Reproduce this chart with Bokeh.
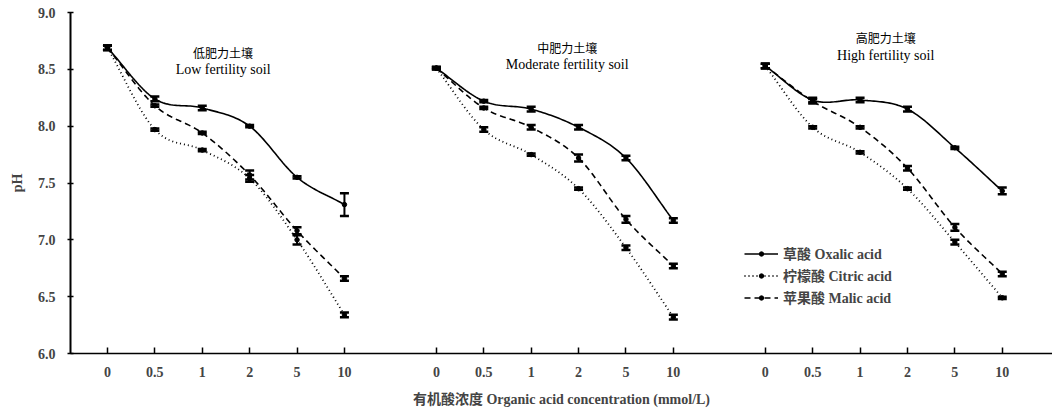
import numpy as np
from bokeh.plotting import figure
from bokeh.models import (ColumnDataSource, Whisker, TeeHead, FixedTicker, Label,
                          Legend, LegendItem)
from bokeh.embed import file_html
from bokeh.resources import INLINE

# ---------------- data ----------------
concentrations = ["0", "0.5", "1", "2", "5", "10"]
soils_cn = ["低肥力土壤", "中肥力土壤", "高肥力土壤"]
soils_en = ["Low fertility soil", "Moderate fertility soil", "High fertility soil"]
acid_labels = ["草酸 Oxalic acid", "柠檬酸 Citric acid", "苹果酸 Malic acid"]

oxalic_low = [8.69, 8.24, 8.16, 8.00, 7.55, 7.31]
citric_low = [8.69, 7.97, 7.79, 7.54, 7.00, 6.34]
malic_low = [8.69, 8.18, 7.94, 7.57, 7.08, 6.66]

oxalic_mod = [8.51, 8.22, 8.15, 7.99, 7.72, 7.17]
citric_mod = [8.51, 7.97, 7.75, 7.45, 6.93, 6.32]
malic_mod = [8.51, 8.16, 7.99, 7.72, 7.18, 6.77]

oxalic_high = [8.53, 8.23, 8.23, 8.15, 7.81, 7.43]
citric_high = [8.53, 7.99, 7.77, 7.45, 6.98, 6.49]
malic_high = [8.53, 8.22, 7.99, 7.63, 7.11, 6.70]

oxalic_low_err = [0.02, 0.02, 0.02, 0.01, 0.01, 0.10]
citric_low_err = [0.02, 0.01, 0.01, 0.03, 0.04, 0.02]
malic_low_err = [0.02, 0.01, 0.01, 0.04, 0.03, 0.02]

oxalic_mod_err = [0.01, 0.01, 0.02, 0.02, 0.02, 0.02]
citric_mod_err = [0.01, 0.02, 0.01, 0.01, 0.02, 0.02]
malic_mod_err = [0.01, 0.01, 0.02, 0.03, 0.03, 0.02]

oxalic_high_err = [0.02, 0.02, 0.02, 0.02, 0.01, 0.03]
citric_high_err = [0.02, 0.01, 0.01, 0.01, 0.02, 0.01]
malic_high_err = [0.02, 0.02, 0.01, 0.02, 0.03, 0.02]

yticks = [6.0, 6.5, 7.0, 7.5, 8.0, 8.5, 9.0]

panels = [
    [oxalic_low, citric_low, malic_low],
    [oxalic_mod, citric_mod, malic_mod],
    [oxalic_high, citric_high, malic_high],
]
panel_errs = [
    [oxalic_low_err, citric_low_err, malic_low_err],
    [oxalic_mod_err, citric_mod_err, malic_mod_err],
    [oxalic_high_err, citric_high_err, malic_high_err],
]

# ---------------- layout ----------------
STEP = 50
PANEL = 347
SERIF = "'Liberation Serif', 'Noto Sans CJK SC', serif"
styles = [dict(line_dash="solid", line_width=1.6),
          dict(line_dash="1 3", line_width=1.8),
          dict(line_dash="6 4", line_width=1.6)]


def smooth(xs, ys, n=24):
    xs = np.asarray(xs, float)
    ys = np.asarray(ys, float)
    px = np.concatenate([[2 * xs[0] - xs[1]], xs, [2 * xs[-1] - xs[-2]]])
    py = np.concatenate([[2 * ys[0] - ys[1]], ys, [2 * ys[-1] - ys[-2]]])
    outx, outy = [], []
    for i in range(1, len(px) - 2):
        t = np.linspace(0, 1, n, endpoint=(i == len(px) - 3))
        for arr, out in ((px, outx), (py, outy)):
            p0, p1, p2, p3 = arr[i - 1], arr[i], arr[i + 1], arr[i + 2]
            out.extend(0.5 * ((2 * p1) + (-p0 + p2) * t +
                              (2 * p0 - 5 * p1 + 4 * p2 - p3) * t ** 2 +
                              (-p0 + 3 * p1 - 3 * p2 + p3) * t ** 3))
    return outx, outy


p = figure(width=1052, height=416, x_range=(-39, 997), y_range=(6, 9),
           output_backend="svg", toolbar_location=None,
           min_border_left=70, min_border_right=0, min_border_top=12,
           min_border_bottom=63)
p.outline_line_color = None
p.xgrid.visible = False
p.ygrid.visible = False
p.background_fill_color = "white"
p.border_fill_color = "white"

tick_pos = []
overrides = {}
legend_renderers = [[], [], []]
for pi, series in enumerate(panels):
    xs = [pi * PANEL + j * STEP for j in range(len(concentrations))]
    for j, c in enumerate(concentrations):
        tick_pos.append(xs[j])
        overrides[xs[j]] = c
    for si, ys in enumerate(series):
        err = panel_errs[pi][si]
        sx, sy = smooth(xs, ys)
        ln = p.line(sx, sy, line_color="black", **styles[si])
        src = ColumnDataSource(dict(x=xs, y=ys,
                                    upper=[a + b for a, b in zip(ys, err)],
                                    lower=[a - b for a, b in zip(ys, err)]))
        sc = p.scatter("x", "y", source=src, size=4.5, color="black")
        w = Whisker(source=src, base="x", upper="upper", lower="lower",
                    dimension="height", line_color="black", line_width=2,
                    upper_head=TeeHead(size=9, line_width=2.5, line_color="black"),
                    lower_head=TeeHead(size=9, line_width=2.5, line_color="black"))
        p.add_layout(w)
        if pi == 0:
            legend_renderers[si] = [ln, sc]

# titles
title_x = [122, PANEL + 138, 2 * PANEL + 127]
title_y_cn = [8.65, 8.69, 8.78]
title_y_en = [8.50, 8.54, 8.62]
for i in range(3):
    p.add_layout(Label(x=title_x[i], y=title_y_cn[i], text=soils_cn[i],
                       text_align="center", text_baseline="middle",
                       text_font="Noto Sans CJK SC", text_font_size="12px",
                       text_color="black"))
    p.add_layout(Label(x=title_x[i], y=title_y_en[i], text=soils_en[i],
                       text_align="center", text_baseline="middle",
                       text_font=SERIF, text_font_size="14px",
                       text_color="black"))

# axes
p.xaxis.ticker = FixedTicker(ticks=tick_pos)
p.xaxis.major_label_overrides = overrides
p.xaxis.major_tick_in = 6
p.xaxis.major_tick_out = 0
p.xaxis.minor_tick_line_color = None
p.xaxis.axis_line_width = 1.6
p.xaxis.major_tick_line_width = 1.5
p.xaxis.major_label_standoff = 13
p.xaxis.major_label_text_font = SERIF
p.xaxis.major_label_text_font_size = "14px"
p.xaxis.major_label_text_font_style = "bold"
p.xaxis.axis_label = "有机酸浓度 Organic acid concentration (mmol/L)"
p.xaxis.axis_label_text_font = SERIF
p.xaxis.axis_label_text_font_size = "14px"
p.xaxis.axis_label_text_font_style = "bold"
p.xaxis.axis_label_standoff = 12

p.yaxis.ticker = FixedTicker(ticks=yticks)
p.yaxis.major_label_overrides = {v: f"{v:.1f}" for v in yticks}
p.yaxis.major_tick_in = 3
p.yaxis.major_tick_out = 3
p.yaxis.minor_tick_line_color = None
p.yaxis.axis_line_width = 2
p.yaxis.major_tick_line_width = 1.5
p.yaxis.major_label_standoff = 12
p.yaxis.major_label_text_font = SERIF
p.yaxis.major_label_text_font_size = "14px"
p.yaxis.major_label_text_font_style = "bold"
p.yaxis.axis_label = "pH"
p.yaxis.axis_label_text_font = SERIF
p.yaxis.axis_label_text_font_size = "14px"
p.yaxis.axis_label_text_font_style = "bold"
p.yaxis.axis_label_standoff = 10

legend = Legend(items=[LegendItem(label=acid_labels[i], renderers=legend_renderers[i])
                       for i in range(3)],
                location=(674, 45), padding=5, spacing=0, glyph_width=34,
                glyph_height=11, label_height=22, label_standoff=5,
                label_text_font=SERIF, label_text_font_size="14px",
                label_text_font_style="bold",
                background_fill_alpha=0, border_line_color=None, margin=0)
p.add_layout(legend, "center")

open("out.html", "w").write(file_html(p, INLINE))
